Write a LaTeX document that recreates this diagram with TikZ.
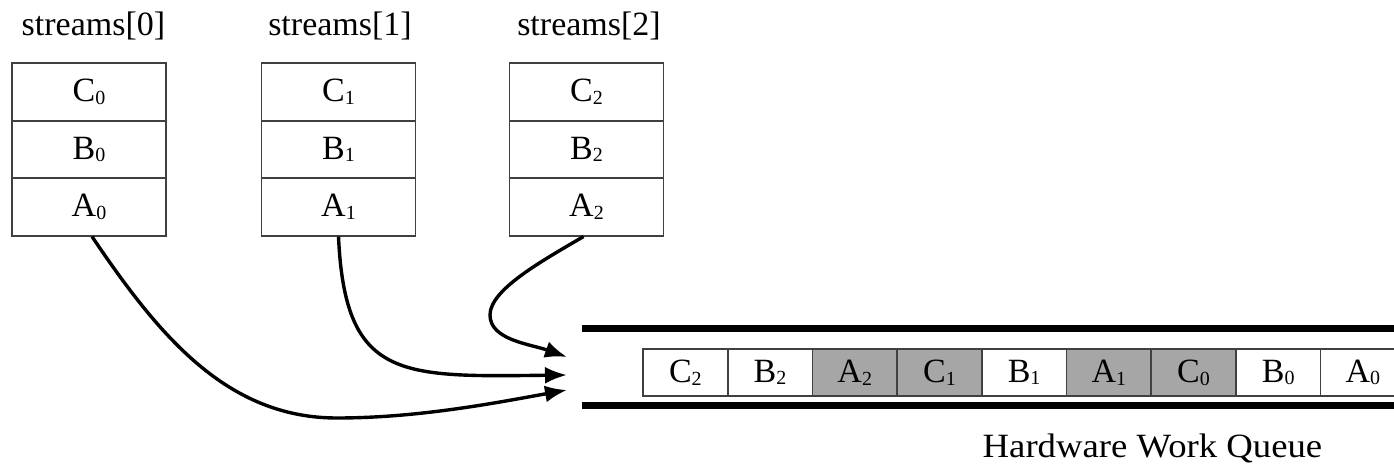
\documentclass[tikz,border=0pt]{standalone}
\usepackage{fontspec}
\setmainfont{Liberation Serif}
\usetikzlibrary{arrows.meta}
% letter with a small, slightly lowered index
\newcommand{\opidx}[2]{#1\raisebox{-0.08em}{\fontsize{10}{10}\selectfont #2}}

\begin{document}
\begin{tikzpicture}[x=0.5pt,y=-0.5pt,
  cell/.style={draw=black!75, line width=0.8pt, minimum width=77pt,
    minimum height=28.75pt, inner sep=0pt, font=\fontsize{17}{20}\selectfont},
  qcell/.style={draw=black!75, line width=0.8pt, minimum width=42.35pt,
    minimum height=23.5pt, inner sep=0pt, fill=white, font=\fontsize{17}{20}\selectfont},
  busy/.style={fill=black!35},
  title/.style={font=\fontsize{17}{20}\selectfont, anchor=base, inner sep=0pt},
  feed/.style={line width=1.7pt, -{Latex[length=11pt,width=8.5pt]}},
  rail/.style={line width=3.5pt}
]
\useasboundingbox (0,0) rectangle (1394,465);

% the three streams, each a stack of three operations
\foreach \i/\x/\lx in {0/89/93.5, 1/338.5/340, 2/586.5/589}{
  \node[title] (s\i) at (\lx,36) {streams[\i]};
  \node[cell] (c\i) at (\x,92) {\opidx{C}{\i}};
  \node[cell] (b\i) at (\x,149.5) {\opidx{B}{\i}};
  \node[cell] (a\i) at (\x,207) {\opidx{A}{\i}};
}

% hardware work queue
\begin{scope}
  \clip (0,0) rectangle (1394,465);
  \coordinate (rt0) at (582,328);
  \coordinate (rt1) at (1394,328);
  \coordinate (rb0) at (582,405);
  \coordinate (rb1) at (1394,405);
  \draw[rail] (rt0) -- (rt1);
  \draw[rail] (rb0) -- (rb1);
  \foreach \k/\op/\n/\st in {0/C/2/qcell, 1/B/2/qcell, 2/A/2/busy, 3/C/1/busy,
      4/B/1/qcell, 5/A/1/busy, 6/C/0/busy, 7/B/0/qcell, 8/A/0/qcell}{
    \node[qcell,\st] (q\k) at (685.35+84.7*\k,372.5) {\opidx{\op}{\n}};
  }
\end{scope}
\node[title] (hwq) at (1152.5,457) {\scalebox{1.08}[1]{Hardware Work Queue}};

% entry points of the queue
\coordinate (in2) at (567,357);
\coordinate (in1) at (567,375);
\coordinate (in0) at (567,390);

\draw[feed] ([xshift=1.5pt]a0.south) .. controls (159,336) and (227,418) .. (337,418)
  .. controls (420,418) and (500,402) .. (in0);
\draw[feed] (a1.south) .. controls (345,380) and (400,377) .. (in1);
\draw[feed] ([xshift=-1.5pt]a2.south) .. controls (540,262) and (490,290) .. (490,315)
  .. controls (490,340) and (530,344) .. (in2);
\end{tikzpicture}
\end{document}
